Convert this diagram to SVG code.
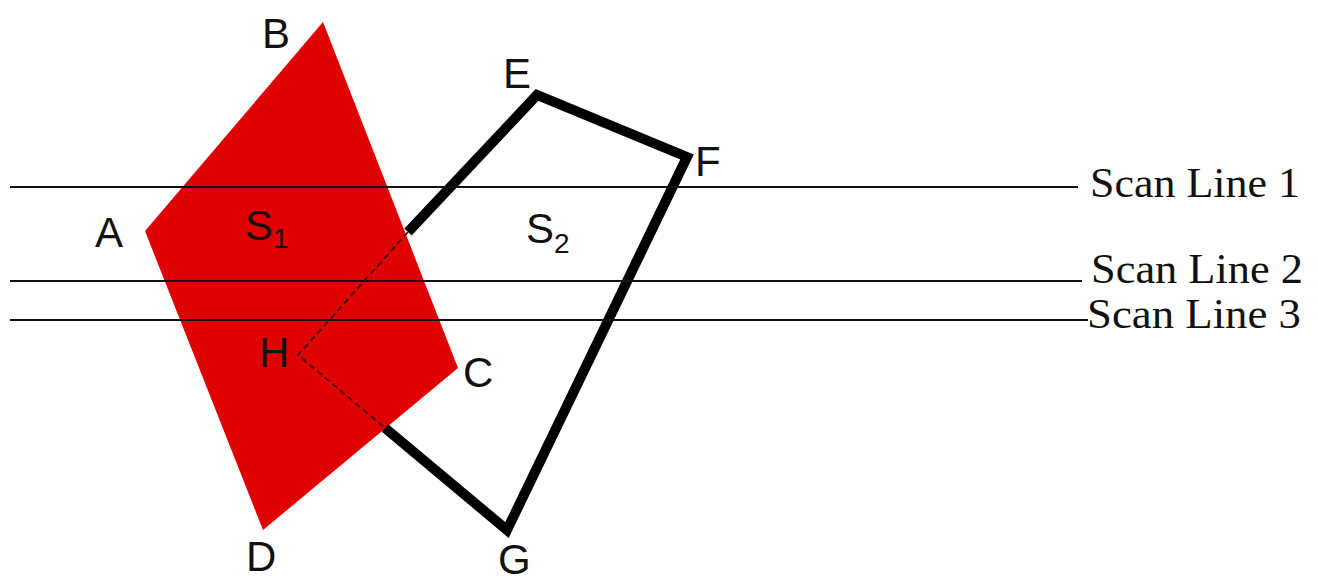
<svg xmlns="http://www.w3.org/2000/svg" width="1318" height="581" viewBox="0 0 1318 581">
<style>
.lbl{font-family:"Liberation Sans",Arial,sans-serif;font-size:42px;fill:#111}
.sub{font-size:28px}
.scan{font-family:"Liberation Serif","Times New Roman",serif;font-size:42px;fill:#111}
.sl{stroke:#111;stroke-width:1.8;fill:none}
.thick{stroke:#000;stroke-width:10;fill:none;stroke-linejoin:miter;stroke-linecap:butt}
.dash{stroke:#3a0000;stroke-width:1.8;stroke-dasharray:6 4;fill:none}
</style>
<rect width="1318" height="581" fill="#fff"/>
<g id="S1">
<polygon points="323,22 145,231 263,530 458,368" fill="#E00000"/>
</g>
<g id="S2">
<polyline class="thick" points="408,232 537,95 687,157 507,530 385,428"/>
<polyline class="dash" points="408,232 298,355 385,428"/>
</g>
<g id="connectors">
<line class="sl" x1="10" y1="187" x2="1078" y2="187"/>
<line class="sl" x1="10" y1="281" x2="1082" y2="281"/>
<line class="sl" x1="10" y1="320" x2="1088" y2="320"/>
</g>
<g id="labels">
<text class="lbl" x="262" y="48">B</text>
<text class="lbl" x="95" y="247">A</text>
<text class="lbl" x="503" y="88">E</text>
<text class="lbl" x="695" y="176">F</text>
<text class="lbl" x="259" y="367">H</text>
<text class="lbl" x="463" y="387">C</text>
<text class="lbl" x="246" y="571">D</text>
<text class="lbl" x="498" y="574">G</text>
<text class="lbl" x="245" y="240">S<tspan class="sub" dy="8">1</tspan></text>
<text class="lbl" x="526" y="243">S<tspan class="sub" dy="10">2</tspan></text>
</g>
<g id="scanlabels">
<text class="scan" x="1090" y="197" textLength="210" lengthAdjust="spacingAndGlyphs">Scan Line 1</text>
<text class="scan" x="1091" y="283" textLength="212" lengthAdjust="spacingAndGlyphs">Scan Line 2</text>
<text class="scan" x="1087" y="328" textLength="214" lengthAdjust="spacingAndGlyphs">Scan Line 3</text>
</g>
</svg>
